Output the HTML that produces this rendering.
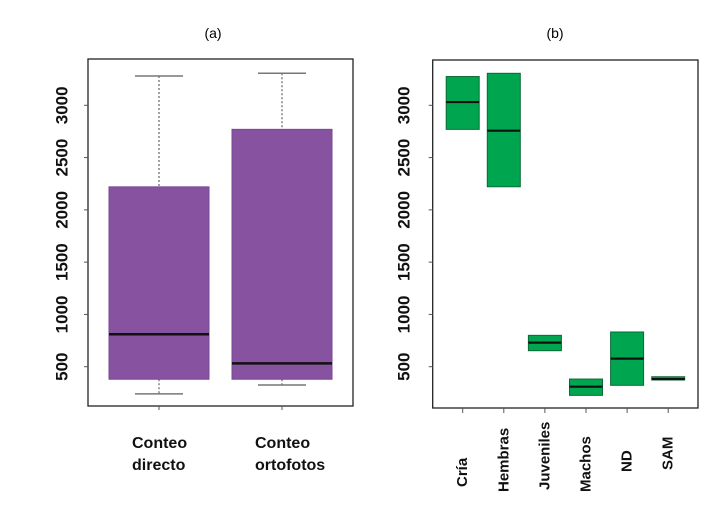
<!DOCTYPE html>
<html><head><meta charset="utf-8"><style>
body{margin:0;background:#fff;}
svg{display:block;font-family:"Liberation Sans",sans-serif;}
</style></head><body>
<svg id="c" width="727" height="507" viewBox="0 0 727 507"></svg>
<script>
// Panel (a)
const catsA = ["Conteo directo","Conteo ortofotos"];
const minA = [240, 325];
const q1A = [380, 380];
const medA = [810, 532];
const q3A = [2220, 2770];
const maxA = [3280, 3306];
// Panel (b)
const catsB = ["Cría","Hembras","Juveniles","Machos","ND","SAM"];
const q1B = [2770, 2221, 653, 226, 322, 373];
const medB = [3031, 2757, 730, 309, 577, 382];
const q3B = [3275, 3306, 800, 382, 832, 404];
const yTicks = [500,1000,1500,2000,2500,3000];

const NS="http://www.w3.org/2000/svg";
const svg=document.getElementById('c');
function mk(t,a,p){const e=document.createElementNS(NS,t);for(const k in a)e.setAttribute(k,a[k]);(p||svg).appendChild(e);return e;}
const y=v=>366.7-(v-500)*0.10456;

function axisY(x0,labX,name){
  const g=mk('g',{});
  
  
  yTicks.forEach(t=>{
    mk('line',{x1:x0-4,x2:x0,y1:y(t),y2:y(t),stroke:'#555','stroke-width':1},g);
    const tx=mk('text',{x:labX,y:y(t),'font-size':17,'font-weight':'bold','text-anchor':'middle','dominant-baseline':'central',transform:`rotate(-90 ${labX} ${y(t)})`,fill:'#111'},g);
    tx.textContent=t;
  });
}

// Panel a frame
const fa=mk('rect',{x:88,y:59,width:265,height:347,fill:'none',stroke:'#222','stroke-width':1.3});


axisY(88,62,'panel-a-y-axis');
const ta=mk('text',{x:213,y:38,'font-size':14,'text-anchor':'middle'});ta.textContent='(a)';



const xA=i=>159+i*123;
catsA.forEach((c,i)=>{
  const cx=xA(i),hw=50;
  const g=mk('g',{});
  
  
  mk('line',{x1:cx,x2:cx,y1:y(maxA[i]),y2:y(q3A[i]),stroke:'#444','stroke-dasharray':'2,2'},g);
  mk('line',{x1:cx,x2:cx,y1:y(q1A[i]),y2:y(minA[i]),stroke:'#444','stroke-dasharray':'2,2'},g);
  mk('line',{x1:cx-24,x2:cx+24,y1:y(maxA[i]),y2:y(maxA[i]),stroke:'#777','stroke-width':1.5},g);
  mk('line',{x1:cx-24,x2:cx+24,y1:y(minA[i]),y2:y(minA[i]),stroke:'#777','stroke-width':1.5},g);
  mk('rect',{x:cx-hw,y:y(q3A[i]),width:2*hw,height:y(q1A[i])-y(q3A[i]),fill:'#8753a0',stroke:'#7a4796'},g);
  mk('line',{x1:cx-hw,x2:cx+hw,y1:y(medA[i]),y2:y(medA[i]),stroke:'#111','stroke-width':2.5},g);
  mk('line',{x1:cx,x2:cx,y1:406,y2:410,stroke:'#555'},g);
  const w=c.split(' ');
  const t1=mk('text',{x:cx-27,y:448,'font-size':16,'font-weight':'bold',fill:'#111'},g);t1.textContent=w[0];
  const t2=mk('text',{x:cx-27,y:470,'font-size':16,'font-weight':'bold',fill:'#111'},g);t2.textContent=w[1];
});

// Panel b
const fb=mk('rect',{x:432.7,y:60,width:265.3,height:348,fill:'none',stroke:'#222','stroke-width':1.3});


axisY(432.7,404,'panel-b-y-axis');
const tb=mk('text',{x:555,y:38,'font-size':14,'text-anchor':'middle'});tb.textContent='(b)';


const labBottom=[487,492,490,492,472,470];
const xB=i=>462.7+i*41.1;
catsB.forEach((c,i)=>{
  const cx=xB(i),hw=16.5;
  const g=mk('g',{});
  
  
  mk('rect',{x:cx-hw,y:y(q3B[i]),width:2*hw,height:Math.max(1,y(q1B[i])-y(q3B[i])),fill:'#00a54f',stroke:'#0a6b35','stroke-width':1},g);
  mk('line',{x1:cx-hw,x2:cx+hw,y1:y(medB[i]),y2:y(medB[i]),stroke:'#111','stroke-width':2.2},g);
  mk('line',{x1:cx,x2:cx,y1:408,y2:413,stroke:'#555'},g);
  const by=labBottom[i];
  const t=mk('text',{x:cx,y:by,'font-size':15,'font-weight':'bold','dominant-baseline':'central',transform:`rotate(-90 ${cx} ${by})`,fill:'#111'},g);
  t.textContent=c;
});
</script>
</body></html>
